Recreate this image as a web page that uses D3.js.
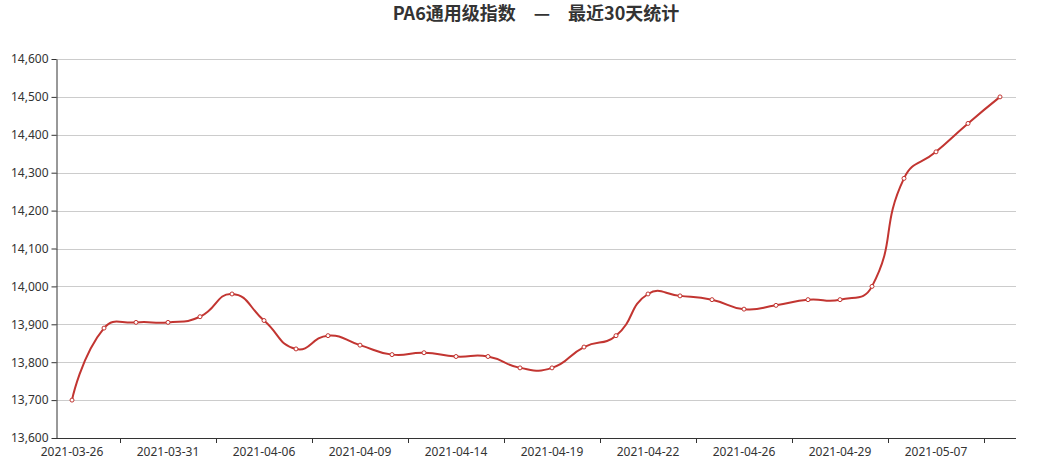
<!DOCTYPE html>
<html>
<head>
<meta charset="utf-8">
<script src="https://cdn.jsdelivr.net/npm/d3@7"></script>
<style>
  html, body { margin: 0; padding: 0; background: #fff; }
  svg { display: block; }
  text { font-family: "Noto Sans CJK SC", "Noto Sans", sans-serif; }
</style>
</head>
<body>
<svg id="chart" width="1038" height="467"></svg>
<script>
const titleText = "PA6通用级指数　—　最近30天统计";
const categories = [
  "2021-03-26","2021-03-29","2021-03-30","2021-03-31","2021-04-01","2021-04-02",
  "2021-04-06","2021-04-07","2021-04-08","2021-04-09","2021-04-12","2021-04-13",
  "2021-04-14","2021-04-15","2021-04-16","2021-04-19","2021-04-20","2021-04-21",
  "2021-04-22","2021-04-23","2021-04-25","2021-04-26","2021-04-27","2021-04-28",
  "2021-04-29","2021-04-30","2021-05-06","2021-05-07","2021-05-08","2021-05-10"
];
const values = [
  13700, 13890, 13905, 13905, 13920, 13980,
  13910, 13835, 13870, 13845, 13820, 13825,
  13815, 13815, 13785, 13785, 13840, 13870,
  13980, 13975, 13965, 13940, 13950, 13965,
  13965, 14000, 14285, 14355, 14430, 14500
];
const yTicks = [13600, 13700, 13800, 13900, 14000, 14100, 14200, 14300, 14400, 14500, 14600];
const labelEvery = 3;

(function () {
const svg = d3.select("#chart");
const gLeft = 56, gRight = 1016, gTop = 59, gBottom = 438;

const x = d3.scaleBand().domain(categories).range([gLeft, gRight]).paddingInner(0).paddingOuter(0);
const cx = d => x(d) + x.bandwidth() / 2;
const y = d3.scaleLinear().domain([13600, 14600]).range([gBottom, gTop]);

// grid lines
svg.append("g").selectAll("line").data(yTicks.filter(t => t !== 13600)).join("line")
  .attr("x1", gLeft).attr("x2", gRight)
  .attr("y1", d => Math.round(y(d)) + 0.5).attr("y2", d => Math.round(y(d)) + 0.5)
  .attr("stroke", "#ccc").attr("stroke-width", 1);

// y axis
const yAxis = d3.axisLeft(y).tickValues(yTicks).tickFormat(d3.format(",")).tickSize(5).tickSizeOuter(0).tickPadding(3);
const gy = svg.append("g").attr("transform", `translate(${gLeft + 0.5},0)`).call(yAxis);
gy.select(".domain").attr("stroke", "#333");
gy.selectAll(".tick line").attr("stroke", "#333");
gy.selectAll(".tick text").attr("fill", "#333").style("font-size", "12px")
  .style("font-family", "'Noto Sans', sans-serif");

// x axis
const gx = svg.append("g");
gx.append("line").attr("x1", gLeft).attr("x2", gRight)
  .attr("y1", gBottom + 0.5).attr("y2", gBottom + 0.5).attr("stroke", "#333");
const tickIdx = d3.range(labelEvery - 1, categories.length, labelEvery);
gx.selectAll("line.tk").data(tickIdx).join("line").attr("class", "tk")
  .attr("x1", i => Math.round(x(categories[i])) + 0.5).attr("x2", i => Math.round(x(categories[i])) + 0.5)
  .attr("y1", gBottom).attr("y2", gBottom + 5).attr("stroke", "#333");
const labIdx = d3.range(0, categories.length, labelEvery);
gx.selectAll("text").data(labIdx).join("text")
  .attr("x", i => cx(categories[i])).attr("y", 456)
  .attr("text-anchor", "middle").attr("fill", "#333")
  .style("font-size", "12px").style("font-family", "'Noto Sans', sans-serif")
  .text(i => categories[i]);

// ECharts-4-style smoothing curve
function echartsSmooth(context) {
  let pts = [];
  const smooth = 0.5;
  return {
    areaStart() {}, areaEnd() {},
    lineStart() { pts = []; },
    point(px, py) { pts.push([+px, +py]); },
    lineEnd() {
      if (!pts.length) return;
      const minX = d3.min(pts, p => p[0]), maxX = d3.max(pts, p => p[0]);
      const minY = d3.min(pts, p => p[1]), maxY = d3.max(pts, p => p[1]);
      const clamp = c => [Math.max(minX, Math.min(maxX, c[0])), Math.max(minY, Math.min(maxY, c[1]))];
      context.moveTo(pts[0][0], pts[0][1]);
      let cp0 = pts[0].slice();
      for (let i = 1; i < pts.length; i++) {
        const p = pts[i], prev = pts[i - 1], next = pts[i + 1];
        let cp1, v = [0, 0], r = 0.5;
        if (!next) cp1 = p.slice();
        else {
          v = [next[0] - prev[0], next[1] - prev[1]];
          const lp = Math.hypot(p[0] - prev[0], p[1] - prev[1]);
          const ln = Math.hypot(next[0] - p[0], next[1] - p[1]);
          r = ln / (ln + lp);
          cp1 = [p[0] - v[0] * smooth * (1 - r), p[1] - v[1] * smooth * (1 - r)];
        }
        const a = clamp(cp0), b = clamp(cp1);
        context.bezierCurveTo(a[0], a[1], b[0], b[1], p[0], p[1]);
        if (next) cp0 = [p[0] + v[0] * smooth * r, p[1] + v[1] * smooth * r];
      }
    }
  };
}

const line = d3.line().x((d, i) => cx(categories[i])).y(d => y(d)).curve(echartsSmooth);
svg.append("path").datum(values).attr("d", line)
  .attr("fill", "none").attr("stroke", "#c23531").attr("stroke-width", 2)
  .attr("stroke-linejoin", "round");

svg.append("g").selectAll("circle").data(values).join("circle")
  .attr("cx", (d, i) => cx(categories[i])).attr("cy", d => y(d)).attr("r", 2)
  .attr("fill", "#fff").attr("stroke", "#c23531").attr("stroke-width", 1);

// title
svg.append("text").attr("x", 536).attr("y", 20).attr("text-anchor", "middle")
  .attr("fill", "#333").style("font-size", "18px").style("font-weight", "bold")
  .text(titleText);
})();
</script>
</body>
</html>
